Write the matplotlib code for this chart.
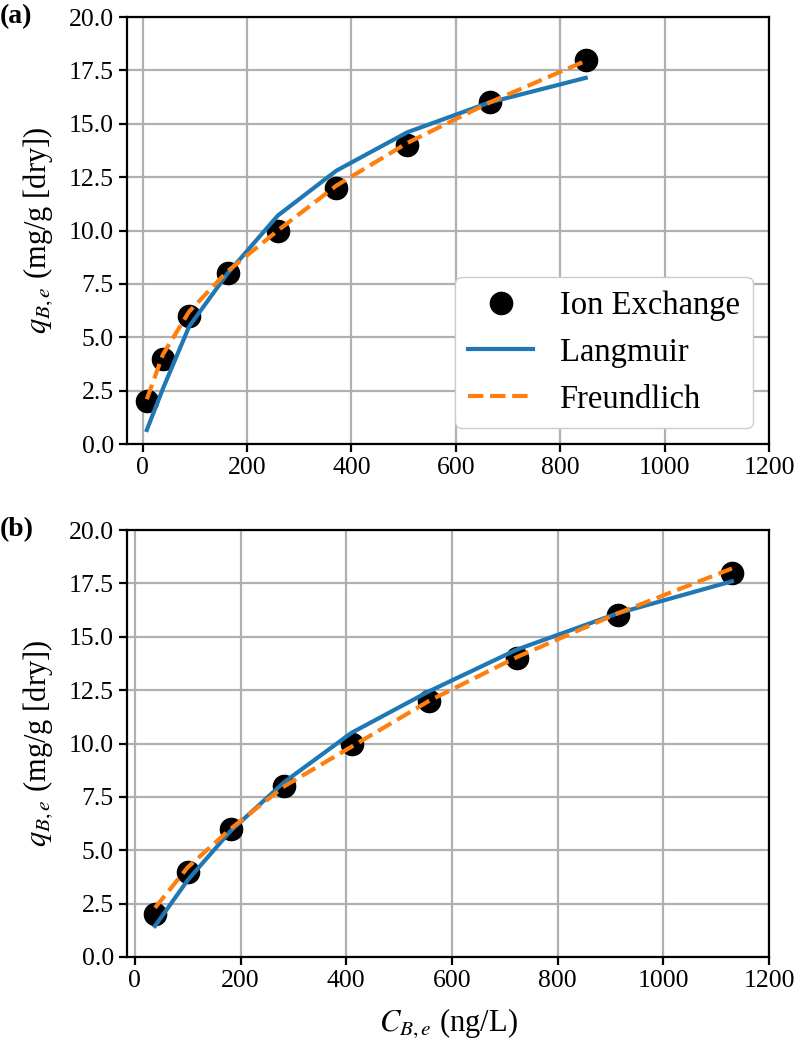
import matplotlib
matplotlib.use("Agg")
import matplotlib.pyplot as plt

# ---- data ----
q_levels = [2, 4, 6, 8, 10, 12, 14, 16, 18]

# panel (a)
ca_points = [8, 39, 89, 163, 259, 371, 507, 665, 849]
qa_points = q_levels
qa_langmuir = [0.66, 2.6, 5.5, 8.0, 10.7, 12.8, 14.6, 16.0, 17.15]
qa_freundlich = [2.1, 4.2, 6.2, 8.1, 10.0, 12.1, 14.1, 16.0, 17.95]

# panel (b)
cb_points = [38, 100, 181, 283, 410, 557, 723, 914, 1130]
qb_points = q_levels
qb_langmuir = [1.45, 3.6, 5.9, 8.2, 10.5, 12.45, 14.4, 16.1, 17.6]
qb_freundlich = [2.3, 4.2, 6.0, 8.0, 9.85, 12.0, 14.05, 16.1, 18.2]

x_ticks = [0, 200, 400, 600, 800, 1000, 1200]
y_ticks = [0.0, 2.5, 5.0, 7.5, 10.0, 12.5, 15.0, 17.5, 20.0]

plt.rcParams['font.family'] = ['Liberation Serif', 'DejaVu Serif']
plt.rcParams['mathtext.fontset'] = 'stix'

fig = plt.figure(figsize=(7.96, 10.5), dpi=100)
ax_a = fig.add_axes([0.1595, 0.5771, 0.8065, 0.4067])
ax_b = fig.add_axes([0.1595, 0.0886, 0.8065, 0.4066])

def style(ax, xlim):
    ax.set_xlim(*xlim)
    ax.set_ylim(0, 20)
    ax.set_xticks(x_ticks)
    ax.set_yticks(y_ticks)
    ax.set_yticklabels([f"{v:.1f}" for v in y_ticks])
    ax.grid(True, color='#b0b0b0', linewidth=1.6)
    ax.set_axisbelow(True)
    for s in ax.spines.values():
        s.set_linewidth(1.6)
        s.set_color('black')
    ax.tick_params(labelsize=18.5, width=1.6, length=6, direction='out')
    ax.set_ylabel(r"$q_{B,e}$ (mg/g [dry])", fontsize=22, labelpad=10)

for ax, c, q, ql, qf, xl in [
    (ax_a, ca_points, qa_points, qa_langmuir, qa_freundlich, (-30, 1200)),
    (ax_b, cb_points, qb_points, qb_langmuir, qb_freundlich, (-15, 1200)),
]:
    ax.plot(c, q, 'o', color='black', markersize=16, label='Ion Exchange', zorder=3)
    ax.plot(c, ql, '-', color='#1f77b4', linewidth=3, label='Langmuir', zorder=4)
    ax.plot(c, qf, '--', color='#ff7f0e', linewidth=3, label='Freundlich', zorder=5)
    style(ax, xl)

ax_b.set_xlabel(r"$C_{B,e}$ (ng/L)", fontsize=22, labelpad=10)

ax_a.legend(loc='lower right', fontsize=23.5, frameon=True, fancybox=True,
            edgecolor='#cccccc', framealpha=1.0, borderaxespad=0.5)

fig.text(0.0, 0.984, "(a)", fontsize=20, fontweight='bold', va='center', ha='left')
fig.text(0.0, 0.4952, "(b)", fontsize=20, fontweight='bold', va='center', ha='left')

fig.savefig("out.png", dpi=100)
